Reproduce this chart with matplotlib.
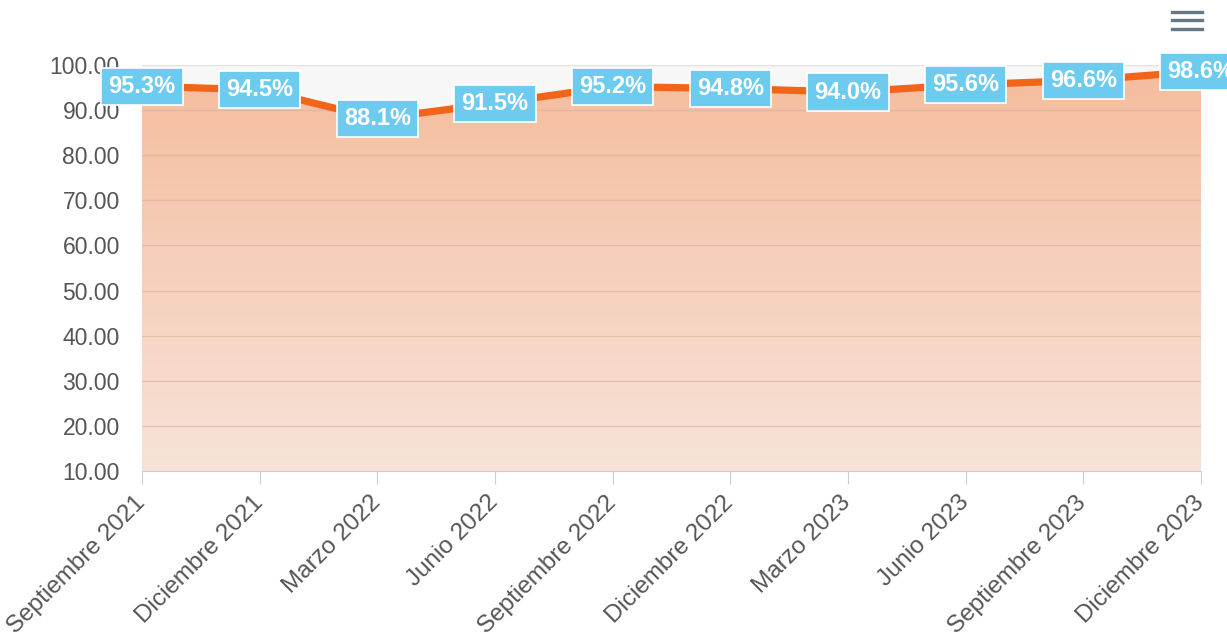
import numpy as np
import matplotlib
matplotlib.use("Agg")
import matplotlib.pyplot as plt
from matplotlib.colors import LinearSegmentedColormap
from matplotlib.lines import Line2D
from matplotlib.transforms import ScaledTranslation

periodos = ["Septiembre 2021", "Diciembre 2021", "Marzo 2022", "Junio 2022",
            "Septiembre 2022", "Diciembre 2022", "Marzo 2023", "Junio 2023",
            "Septiembre 2023", "Diciembre 2023"]
valores = [95.3, 94.5, 88.1, 91.5, 95.2, 94.8, 94.0, 95.6, 96.6, 98.6]
y_ticks = [10, 20, 30, 40, 50, 60, 70, 80, 90, 100]

plt.rcParams['font.family'] = ['Liberation Sans', 'DejaVu Sans']

fig = plt.figure(figsize=(12.27, 6.37), dpi=100)
ax = fig.add_axes([142 / 1227, 1 - 471 / 637, (1201 - 142) / 1227, (471 - 65) / 637])
ax.set_facecolor("#f7f7f7")

x = np.arange(len(valores))
ax.set_xlim(0, len(valores) - 1)
ax.set_ylim(10, 100)

# relleno con degradado
verts = [(0, 10)] + list(zip(x, valores)) + [(x[-1], 10)]
poly = plt.Polygon(verts, closed=True, facecolor="none", edgecolor="none")
ax.add_patch(poly)
cmap = LinearSegmentedColormap.from_list("naranja", ["#f7e3d9", "#f5bc9d"])
grad = np.linspace(0, 1, 256).reshape(-1, 1)
im = ax.imshow(grad, cmap=cmap, origin="lower", aspect="auto",
               extent=[0, x[-1], 10, 100], zorder=1)
im.set_clip_path(poly)

for t in y_ticks[1:]:
    ax.axhline(t, color="#d6b09c", lw=0.9, alpha=0.6, zorder=2)
ax.axhline(100, color="#e3e3e3", lw=1.5, zorder=2)

ax.plot(x, valores, color="#f26418", lw=5.2, zorder=3, solid_capstyle="butt")

for xi, v in zip(x, valores):
    ax.text(xi, v, f"{v:.1f}%", ha="center", va="center", color="white",
            fontsize=17, fontweight="bold", zorder=5, clip_on=False,
            bbox=dict(boxstyle="square,pad=0.3", fc="#6ccbee", ec="white", lw=1.2))

for s in ["top", "right", "left"]:
    ax.spines[s].set_visible(False)
ax.spines["bottom"].set_color("#cccccc")

ax.set_yticks(y_ticks)
ax.set_yticklabels([f"{t:.2f}" for t in y_ticks])
ax.tick_params(axis="y", length=0, pad=16, labelsize=16.5, labelcolor="#555555")
ax.set_xticks(x)
ax.set_xticklabels(periodos, rotation=45, ha="right", rotation_mode="anchor")
ax.tick_params(axis="x", length=9, color="#cccccc", labelsize=17.5,
               labelcolor="#555555", pad=5)
desplazar = ScaledTranslation(-0.08, -0.01, fig.dpi_scale_trans)
for lbl in ax.get_xticklabels():
    lbl.set_transform(lbl.get_transform() + desplazar)

# icono de menú
for yy in [0.981, 0.968, 0.955]:
    fig.add_artist(Line2D([0.955, 0.980], [yy, yy], color="#667788", lw=2.4))

fig.savefig("out.png", dpi=100)
